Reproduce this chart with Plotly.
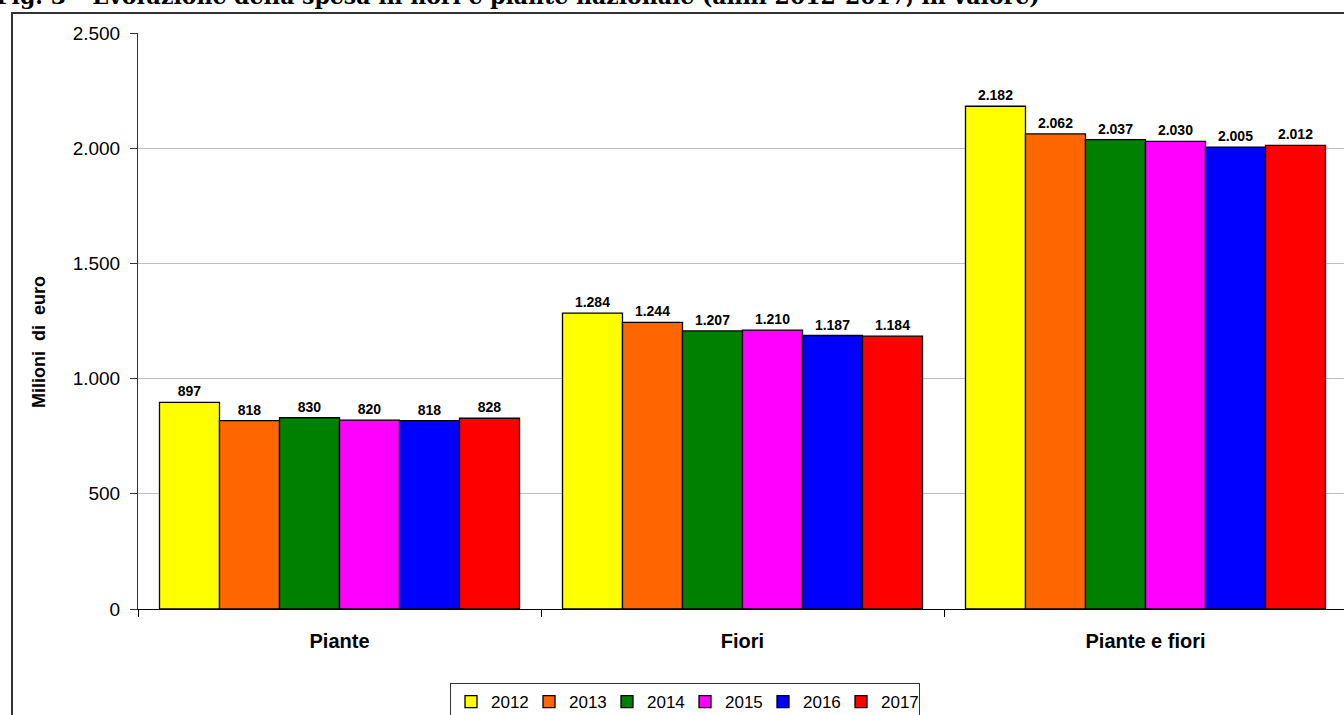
import plotly.graph_objects as go

# Spesa in fiori e piante (milioni di euro)
categories = ["Piante", "Fiori", "Piante e fiori"]
years = ["2012", "2013", "2014", "2015", "2016", "2017"]
spesa_2012 = [897, 1284, 2182]
spesa_2013 = [818, 1244, 2062]
spesa_2014 = [830, 1207, 2037]
spesa_2015 = [820, 1210, 2030]
spesa_2016 = [818, 1187, 2005]
spesa_2017 = [828, 1184, 2012]
series = [spesa_2012, spesa_2013, spesa_2014, spesa_2015, spesa_2016, spesa_2017]
colors = ["#FFFF00", "#FF6600", "#008000", "#FF00FF", "#0000FF", "#FF0000"]

y_ticks = [0, 500, 1000, 1500, 2000, 2500]

W, H = 1344, 715
ML, MT, MB = 138, 33, 106
plot_w = W - ML
plot_h = H - MT - MB
cat_px = 403  # width of one category slot

fig = go.Figure()
for yr, vals, col in zip(years, series, colors):
    fig.add_trace(go.Bar(
        name=yr, x=categories, y=vals,
        marker=dict(color=col, line=dict(color="#000000", width=1.3)),
        texttemplate="%{y:,}", textposition="outside",
        textfont=dict(family="Arial", size=14, color="#000000", weight="bold"),
        cliponaxis=False,
    ))

def px_x(p):
    return (p - ML) / plot_w

def px_y(p):
    return (H - MB - p) / plot_h

nbsp = "\u00a0"
fig.update_layout(
    width=W, height=H,
    margin=dict(l=ML, r=0, t=MT, b=MB, pad=0, autoexpand=False),
    paper_bgcolor="white", plot_bgcolor="white",
    barmode="group", bargap=43 / 403, bargroupgap=0,
    separators=",.",
    font=dict(family="Arial", color="#000000"),
    showlegend=True,
    legend=dict(
        orientation="h", xref="container", yref="container",
        x=685 / W, xanchor="center",
        y=1 - 683 / H, yanchor="top",
        font=dict(family="Arial", size=17, color="#000000"),
        bordercolor="#333333", borderwidth=1, bgcolor="white",
        itemwidth=30, traceorder="normal",
        entrywidth=33, entrywidthmode="pixels",
    ),
    xaxis=dict(
        range=[-0.5, -0.5 + plot_w / cat_px],
        tickson="boundaries", ticks="outside", ticklen=7, tickcolor="#000000",
        showline=True, linecolor="#000000", linewidth=1,
        tickfont=dict(family="Arial", size=20, color="#000000", weight="bold"),
        ticklabelstandoff=14,
        showgrid=False,
    ),
    yaxis=dict(
        range=[0, 2500], tickvals=y_ticks, tickformat=",",
        ticks="outside", ticklen=7, tickcolor="#333333",
        showline=True, linecolor="#333333", linewidth=1,
        gridcolor="#C0C0C0", gridwidth=1,
        tickfont=dict(family="Arial", size=19, color="#000000"),
        ticklabelstandoff=6,
        zeroline=False,
    ),
    shapes=[dict(
        type="rect", xref="paper", yref="paper",
        x0=px_x(12), x1=px_x(1400), y0=px_y(760), y1=px_y(13),
        line=dict(color="#333333", width=2), fillcolor="rgba(0,0,0,0)",
        layer="below",
    )],
    annotations=[
        dict(
            text="Fig. 3 – Evoluzione della spesa in fiori e piante nazionale (anni 2012-2017, in valore)",
            xref="paper", yref="paper", x=px_x(-6), y=px_y(-4), xanchor="left", yanchor="middle",
            showarrow=False,
            font=dict(family="DejaVu Serif", size=22, color="#000000", weight="bold"),
        ),
        dict(
            text=f"Milioni{nbsp*2}di{nbsp*2}euro", textangle=-90,
            xref="paper", yref="paper", x=px_x(39), y=px_y(342),
            xanchor="center", yanchor="middle", showarrow=False,
            font=dict(family="Arial", size=18, color="#000000", weight="bold"),
        ),
    ],
)

fig.write_html("out.html")
